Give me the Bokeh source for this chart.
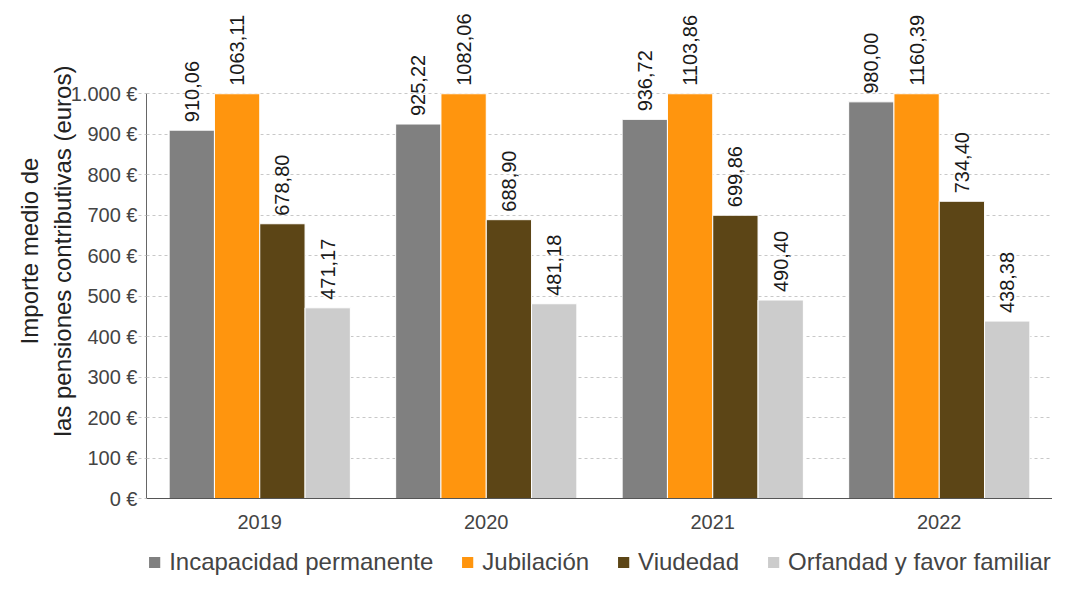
import numpy as np
from bokeh.plotting import figure
from bokeh.layouts import column
from bokeh.models import ColumnDataSource, FactorRange, Range1d, LabelSet, FixedTicker, Legend
from bokeh.transform import dodge
from bokeh.core.properties import value
from bokeh.embed import file_html
from bokeh.resources import INLINE

years = ["2019", "2020", "2021", "2022"]
series = ["Incapacidad permanente", "Jubilación", "Viudedad", "Orfandad y favor familiar"]
incapacidad = [910.06, 925.22, 936.72, 980.00]
jubilacion = [1063.11, 1082.06, 1103.86, 1160.39]
viudedad = [678.80, 688.90, 699.86, 734.40]
orfandad = [471.17, 481.18, 490.40, 438.38]
colors = ["#808080", "#ff950e", "#5c4516", "#cccccc"]
y_ticks = [0, 100, 200, 300, 400, 500, 600, 700, 800, 900, 1000]
y_tick_labels = ["0 €", "100 €", "200 €", "300 €", "400 €", "500 €", "600 €", "700 €", "800 €", "900 €", "1.000 €"]
YMAX = 1000          # axis maximum of the chart (bars are cut there)
YTOP = 1223          # room above the axis for the value labels

FONT = "Liberation Sans"

p = figure(x_range=FactorRange(*years, range_padding=0), y_range=Range1d(0, YTOP),
           width=1052, height=546, output_backend="svg", toolbar_location=None,
           min_border_left=146, min_border_right=0, min_border_top=3, min_border_bottom=48)

all_vals = [incapacidad, jubilacion, viudedad, orfandad]
offsets = [-0.3, -0.1, 0.1, 0.3]
for name, vals, col, off in zip(series, all_vals, colors, offsets):
    shown = np.minimum(np.array(vals), YMAX)
    src = ColumnDataSource(dict(
        year=years,
        val=list(shown),
        txt=[f"{v:.2f}".replace(".", ",") for v in vals],
    ))
    p.vbar(x=dodge("year", off, range=p.x_range), top="val", width=0.2, source=src,
           fill_color=col, line_color="white", line_width=1)
    labels = LabelSet(x=dodge("year", off, range=p.x_range), y="val", text="txt", source=src,
                      angle=np.pi / 2, text_align="left", text_baseline="middle",
                      y_offset=8, text_font=value(FONT), text_font_size="20px", text_color="#1a1a1a")
    p.add_layout(labels)

p.outline_line_color = None
p.xgrid.grid_line_color = None
p.ygrid.grid_line_color = "#c8c8c8"
p.ygrid.grid_line_dash = "3 3"

p.yaxis.ticker = FixedTicker(ticks=y_ticks)
p.yaxis.bounds = (0, YMAX)
p.yaxis.major_label_overrides = {t: l for t, l in zip(y_ticks, y_tick_labels)}
p.yaxis.major_label_text_font = FONT
p.yaxis.major_label_text_font_size = "20px"
p.yaxis.major_label_text_color = "#444444"
p.yaxis.major_tick_out = 8
p.yaxis.major_tick_in = 0
p.yaxis.major_tick_line_color = "#c8c8c8"
p.yaxis.major_tick_line_dash = "3 3"
p.yaxis.minor_tick_line_color = None
p.yaxis.axis_line_color = "#666666"
p.yaxis.major_label_standoff = 1
p.yaxis.axis_label = "Importe medio de\nlas pensiones contributivas (euros)"
p.yaxis.axis_label_text_font = FONT
p.yaxis.axis_label_text_font_size = "24px"
p.yaxis.axis_label_text_font_style = "normal"
p.yaxis.axis_label_text_color = "#222222"
p.yaxis.axis_label_standoff = -8

p.xaxis.major_tick_line_color = None
p.xaxis.minor_tick_line_color = None
p.xaxis.axis_line_color = "#555555"
p.xaxis.major_label_text_font = FONT
p.xaxis.major_label_text_font_size = "20px"
p.xaxis.major_label_text_color = "#444444"
p.xaxis.major_label_standoff = 10

# legend strip below the chart (placeholder bars sit outside its visible range)
lg = figure(width=1052, height=32, output_backend="svg", toolbar_location=None,
            x_range=Range1d(0, 1), y_range=Range1d(0, 1),
            x_axis_location=None, y_axis_location=None,
            min_border_left=0, min_border_right=0, min_border_top=0, min_border_bottom=0)
lg.outline_line_color = None
lg.grid.visible = False
items = []
for name, col in zip(series, colors):
    r = lg.vbar(x=[-5], top=[-5], bottom=[-6], width=0.1, fill_color=col, line_color=None)
    items.append((name, [r]))
legend = Legend(items=items, orientation="horizontal", location="center",
                label_text_font=FONT, label_text_font_size="24px", label_text_color="#444444",
                glyph_width=14, glyph_height=14, label_standoff=8, spacing=27,
                padding=0, margin=0, border_line_color=None, background_fill_alpha=0)
lg.add_layout(legend)

layout = column(p, lg, spacing=0)
open("out.html", "w").write(file_html(layout, INLINE))
